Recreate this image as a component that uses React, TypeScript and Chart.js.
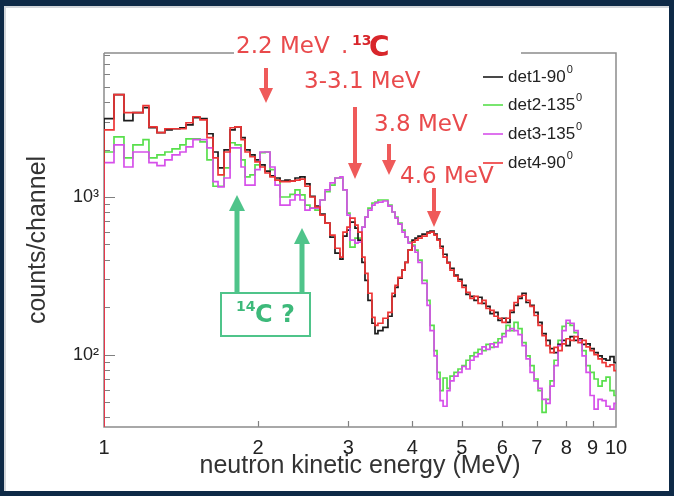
import React, { useEffect, useRef } from 'react';
import { Chart, registerables } from 'chart.js';

Chart.register(...registerables);

// Lower bin edges (MeV); last entry closes the final bin.
const energyEdges = [
  1.000, 1.046, 1.094, 1.139, 1.192, 1.224, 1.269, 1.315, 1.358, 1.407,
  1.446, 1.492, 1.540, 1.589, 1.633, 1.670, 1.716, 1.763, 1.803, 1.852,
  1.886, 1.928, 1.972, 2.017, 2.063, 2.110, 2.158, 2.207, 2.257, 2.308,
  2.361, 2.414, 2.469, 2.525, 2.583, 2.642, 2.702, 2.763, 2.826, 2.890,
  2.929, 2.982, 3.023, 3.092, 3.134, 3.190, 3.234, 3.278, 3.337, 3.383,
  3.428, 3.506, 3.586, 3.652, 3.702, 3.752, 3.820, 3.872, 3.925, 3.996,
  4.050, 4.105, 4.180, 4.275, 4.333, 4.412, 4.472, 4.533, 4.595, 4.677,
  4.740, 4.826, 4.914, 5.003, 5.094, 5.186, 5.281, 5.377, 5.474, 5.574,
  5.675, 5.778, 5.883, 5.990, 6.099, 6.209, 6.322, 6.437, 6.554, 6.673,
  6.794, 6.918, 7.043, 7.171, 7.302, 7.434, 7.569, 7.707, 7.847, 7.989,
  8.134, 8.282, 8.432, 8.585, 8.741, 8.900, 9.062, 9.226, 9.394, 9.561,
  9.733, 9.910, 10.0,
];

const det1 = [
  3140, 4460, 3050, 3430, 3690, 2750, 2560, 2670, 2710, 2750,
  2870, 3190, 3140, 2520, 1930, 1530, 1990, 2670, 2790, 2380,
  1990, 1850, 1720, 1600, 1460, 1360, 1320, 1260, 1280, 1260,
  1320, 1340, 1210, 1010, 876, 779, 683, 556, 440, 403,
  564, 616, 693, 635, 532, 385, 296, 221, 158, 136,
  142, 149, 175, 234, 267, 305, 343, 385, 460, 532,
  548, 564, 581, 599, 607, 581, 540, 487, 433, 385,
  353, 319, 300, 275, 241, 234, 221, 231, 211, 202,
  182, 185, 165, 170, 160, 185, 205, 227, 245, 214,
  205, 185, 160, 136, 123, 109, 103, 116, 123, 114,
  130, 123, 126, 116, 117, 109, 103, 98, 94, 92,
  97, 89,
];

const det2 = [
  1930, 2410, 1770, 2140, 2310, 1770, 1850, 1930, 2020, 2140,
  2340, 2340, 2240, 1720, 1170, 1170, 1530, 2210, 2140, 1720,
  1340, 1380, 1600, 1910, 1930, 1490, 1280, 1000, 1000, 1040,
  1110, 1030, 889, 851, 826, 957, 1080, 1190, 1320, 1320,
  1110, 791, 480, 548, 548, 644, 746, 851, 916, 929,
  957, 957, 889, 803, 746, 683, 616, 556, 517, 495,
  460, 397, 296, 221, 153, 106, 77, 59, 71, 61,
  73, 77, 81, 85, 92, 98, 103, 108, 106, 116,
  111, 119, 126, 136, 153, 142, 160, 146, 119, 98,
  85, 70, 59, 43, 52, 68, 92, 123, 151, 158,
  153, 138, 126, 106, 85, 77, 70, 63, 68, 72,
  59, 55,
];

const det3 = [
  1650, 2140, 1550, 1930, 1930, 1650, 1580, 1720, 1850, 1930,
  2080, 2310, 2310, 2050, 1250, 1160, 1320, 2050, 2050, 1550,
  1190, 1190, 1490, 1930, 1930, 1550, 1190, 889, 889, 957,
  1030, 957, 826, 851, 851, 957, 1110, 1230, 1320, 1340,
  1110, 768, 532, 509, 517, 644, 746, 826, 889, 916,
  929, 943, 876, 803, 735, 673, 599, 556, 509, 487,
  446, 385, 283, 205, 142, 98, 70, 51, 47, 59,
  68, 73, 77, 84, 81, 92, 97, 101, 112, 108,
  117, 112, 119, 130, 142, 146, 142, 134, 114, 94,
  77, 68, 61, 52, 49, 63, 85, 114, 142, 165,
  158, 142, 123, 98, 77, 55, 45, 52, 51, 47,
  45, 49,
];

const det4 = [
  2670, 4460, 3430, 3430, 3800, 2790, 2560, 2710, 2710, 2710,
  2960, 3230, 3090, 2380, 1770, 1380, 1930, 2750, 2790, 2310,
  1930, 1800, 1670, 1550, 1420, 1340, 1280, 1250, 1250, 1260,
  1280, 1300, 1170, 1000, 864, 768, 683, 573, 473, 415,
  599, 644, 735, 663, 599, 415, 328, 245, 172, 153,
  158, 170, 185, 245, 275, 309, 343, 385, 460, 517,
  532, 548, 564, 590, 599, 573, 532, 473, 415, 380,
  343, 314, 292, 267, 248, 227, 234, 211, 221, 196,
  191, 175, 170, 160, 170, 191, 214, 234, 238, 221,
  202, 177, 153, 132, 114, 103, 111, 106, 117, 126,
  123, 130, 119, 123, 112, 106, 100, 94, 89, 84,
  86, 79,
];

const seriesNames = ['det1-90', 'det2-135', 'det3-135', 'det4-90'];
const seriesColors = ['#1c1c1c', '#58df4c', '#d650ea', '#ee3535'];
const seriesOrder = [3, 4, 2, 1];
const seriesValues = [det1, det2, det3, det4];

const xTickValues = [1, 2, 3, 4, 5, 6, 7, 8, 9, 10];
const yTickValues = [100, 1000];
const yTickLabels = ['10²', '10³'];
const yDecades = [10, 100, 1000];
const FLOOR = 1;

function toSteps(vals: number[]) {
  const pts = [{ x: energyEdges[0], y: FLOOR }];
  vals.forEach((v, i) => pts.push({ x: energyEdges[i], y: v }));
  pts.push({ x: energyEdges[energyEdges.length - 1], y: vals[vals.length - 1] });
  return pts;
}

const RED = '#e94a4c';
const RED_ARROW = '#ef5a5a';
const GREEN = '#4fc48a';

function arrow(ctx: CanvasRenderingContext2D, x: number, yTail: number, yTip: number, head: number, halfW: number, shaftW: number, color: string) {
  const dir = yTip > yTail ? 1 : -1;
  const base = yTip - dir * head;
  ctx.save();
  ctx.fillStyle = color;
  ctx.fillRect(x - shaftW / 2, Math.min(yTail, base), shaftW, Math.abs(base - yTail));
  ctx.beginPath();
  ctx.moveTo(x - halfW, base);
  ctx.lineTo(x + halfW, base);
  ctx.lineTo(x, yTip);
  ctx.closePath();
  ctx.fill();
  ctx.restore();
}

const decor = {
  id: 'decor',
  beforeDatasetsDraw(chart: any) {
    const { ctx, chartArea: a, scales } = chart;
    const xs = scales.x;
    const ys = scales.y;
    ctx.save();
    ctx.strokeStyle = '#808080';
    ctx.lineWidth = 1.2;
    ctx.beginPath();
    for (const dec of yDecades) {
      for (let m = 1; m < 10; m++) {
        const v = m * dec;
        if (v < ys.min || v > ys.max) continue;
        const py = Math.round(ys.getPixelForValue(v)) + 0.5;
        ctx.moveTo(a.left, py);
        ctx.lineTo(a.left + (m === 1 ? 11 : 6), py);
      }
    }
    for (const v of xTickValues) {
      if (v === xTickValues[0] || v === xTickValues[xTickValues.length - 1]) continue;
      const px = Math.round(xs.getPixelForValue(v)) + 0.5;
      ctx.moveTo(px, a.bottom);
      ctx.lineTo(px, a.bottom - 6);
    }
    ctx.stroke();

    ctx.strokeStyle = '#8c8c8c';
    ctx.lineWidth = 1.5;
    ctx.beginPath();
    ctx.moveTo(a.left, a.top);
    ctx.lineTo(a.left, a.bottom);
    ctx.lineTo(a.right, a.bottom);
    ctx.lineTo(a.right, a.top);
    ctx.lineTo(521, a.top);
    ctx.moveTo(234, a.top);
    ctx.lineTo(a.left, a.top);
    ctx.stroke();
    ctx.restore();
  },
  afterDatasetsDraw(chart: any) {
    const { ctx } = chart;
    ctx.save();
    ctx.textBaseline = 'middle';
    ctx.textAlign = 'left';

    // legend
    const rows = [77, 105, 134, 163];
    seriesNames.forEach((name, i) => {
      const y = rows[i];
      ctx.strokeStyle = seriesColors[i];
      ctx.lineWidth = 1.6;
      ctx.beginPath();
      ctx.moveTo(483, y);
      ctx.lineTo(503, y);
      ctx.stroke();
      ctx.fillStyle = '#222';
      ctx.font = '17px "Liberation Sans", Arial, sans-serif';
      ctx.fillText(name, 508, y);
      const w = ctx.measureText(name).width;
      ctx.font = '11px "Liberation Sans", Arial, sans-serif';
      ctx.fillText('0', 508 + w + 1, y - 7);
    });

    // red annotations
    ctx.fillStyle = RED;
    ctx.font = '23px "DejaVu Sans", sans-serif';
    ctx.fillText('2.2 MeV', 236, 47);
    ctx.fillText('.', 341, 47);
    ctx.fillText('3-3.1 MeV', 304, 82);
    ctx.fillText('3.8 MeV', 374, 125);
    ctx.fillStyle = '#fff';
    ctx.fillRect(398, 164, 97, 25);
    ctx.fillStyle = RED;
    ctx.fillText('4.6 MeV', 400, 177);

    ctx.fillStyle = '#d8262b';
    ctx.font = 'bold 14px "DejaVu Sans", sans-serif';
    ctx.fillText('13', 352, 41);
    ctx.font = 'bold 28px "DejaVu Sans", sans-serif';
    ctx.fillText('C', 369, 49);

    arrow(ctx, 266, 68, 103, 15, 7, 4, RED_ARROW);
    arrow(ctx, 355, 107, 179, 16, 7, 4, RED_ARROW);
    arrow(ctx, 389, 144, 175, 15, 7, 4, RED_ARROW);
    arrow(ctx, 434, 188, 227, 16, 7, 4, RED_ARROW);

    // green annotations
    arrow(ctx, 237, 293, 195, 16, 8, 5, GREEN);
    arrow(ctx, 302, 293, 228, 16, 8, 5, GREEN);
    ctx.strokeStyle = GREEN;
    ctx.lineWidth = 2;
    ctx.strokeRect(221, 293, 89, 43);
    ctx.fillStyle = '#3db97a';
    ctx.font = 'bold 14px "DejaVu Sans", sans-serif';
    ctx.fillText('14', 236, 307);
    ctx.font = 'bold 24px "DejaVu Sans", sans-serif';
    ctx.fillText('C ?', 255, 316);
    ctx.restore();
  },
};

export default function App() {
  const ref = useRef<HTMLCanvasElement>(null);
  useEffect(() => {
    const canvas = ref.current;
    if (!canvas) return;
    const chart = new Chart(canvas, {
      type: 'line',
      data: {
        datasets: seriesNames.map((name, i) => ({
          label: name,
          data: toSteps(seriesValues[i]),
          borderColor: seriesColors[i],
          backgroundColor: seriesColors[i],
          borderWidth: 1.7,
          pointRadius: 0,
          stepped: true,
          fill: false,
          order: seriesOrder[i],
        })),
      },
      options: {
        animation: false,
        responsive: false,
        devicePixelRatio: 1,
        layout: { padding: { left: 0, top: 53, right: 58, bottom: 0 } },
        plugins: { legend: { display: false }, tooltip: { enabled: false }, title: { display: false } },
        scales: {
          x: {
            type: 'logarithmic',
            min: 1,
            max: 10,
            grid: { display: false, drawTicks: false },
            border: { display: false },
            afterFit: (s: any) => { s.height = 69; },
            afterBuildTicks: (s: any) => { s.ticks = xTickValues.map((v) => ({ value: v })); },
            ticks: {
              autoSkip: false,
              maxRotation: 0,
              padding: 9,
              color: '#222',
              font: { family: '"Liberation Sans", Arial, sans-serif', size: 20 },
              callback: (v: any) => String(v),
            },
            title: {
              display: true,
              text: 'neutron kinetic energy (MeV)',
              color: '#333',
              font: { family: '"Liberation Sans", Arial, sans-serif', size: 25 },
              padding: { top: 0, bottom: 15 },
            },
          },
          y: {
            type: 'logarithmic',
            min: 34.7,
            max: 8200,
            grid: { display: false, drawTicks: false },
            border: { display: false },
            afterFit: (s: any) => { s.width = 104; },
            afterBuildTicks: (s: any) => { s.ticks = yTickValues.map((v) => ({ value: v })); },
            ticks: {
              autoSkip: false,
              padding: 5,
              color: '#222',
              font: { family: '"Liberation Sans", Arial, sans-serif', size: 18 },
              callback: (_v: any, i: number) => yTickLabels[i],
            },
            title: {
              display: true,
              text: 'counts/channel',
              color: '#333',
              font: { family: '"Liberation Sans", Arial, sans-serif', size: 25 },
              padding: { top: 23, bottom: 0 },
            },
          },
        },
      },
      plugins: [decor],
    } as any);
    return () => chart.destroy();
  }, []);

  return (
    <div style={{ position: 'fixed', left: 0, top: 0, width: 674, height: 496, background: '#0e2a47', overflow: 'hidden' }}>
      <div
        style={{
          position: 'absolute', left: 4, top: 6, width: 665, height: 485, background: '#fff',
          borderTop: '2px solid #d3d7db', borderLeft: '2px solid #d3d7db', boxSizing: 'border-box',
        }}
      />
      <canvas ref={ref} width={674} height={496} style={{ position: 'absolute', left: 0, top: 0 }} />
    </div>
  );
}
